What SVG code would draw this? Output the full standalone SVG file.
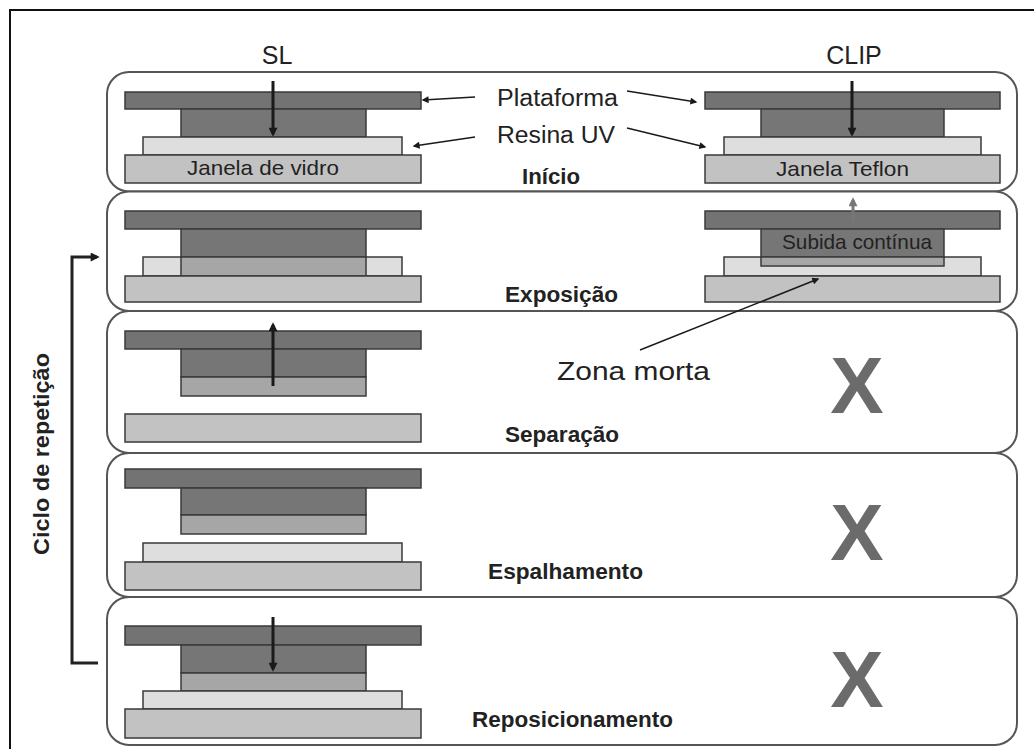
<svg xmlns="http://www.w3.org/2000/svg" width="1034" height="749" viewBox="0 0 1034 749">
<style>
.panel{fill:#fff;stroke:#555;stroke-width:2}
.plate{fill:#737373;stroke:#3a3a3a;stroke-width:1.5}
.block{fill:#767676;stroke:#3a3a3a;stroke-width:1.5}
.cured{fill:#a6a6a6;stroke:#3a3a3a;stroke-width:1.5}
.resin{fill:#dedede;stroke:#3a3a3a;stroke-width:1.5}
.win{fill:#c2c2c2;stroke:#3a3a3a;stroke-width:1.5}
.t{font-family:"Liberation Sans",Arial,sans-serif;fill:#222}
.b{font-family:"Liberation Sans",Arial,sans-serif;font-weight:bold;fill:#222;font-size:22px}
.x{font-family:"Liberation Sans",Arial,sans-serif;font-weight:bold;fill:#6b6b6b;font-size:80px;text-anchor:middle}
.thick{stroke:#1a1a1a;stroke-width:3;fill:none;marker-end:url(#ah)}
.thin{stroke:#1a1a1a;stroke-width:1.5;fill:none;marker-end:url(#ahs)}
</style>
<defs>
<marker id="ah" viewBox="0 0 10 10" refX="7" refY="5" markerUnits="userSpaceOnUse" markerWidth="11" markerHeight="9" orient="auto"><path d="M0,0 L10,5 L0,10 z" fill="#1a1a1a"/></marker>
<marker id="ahg" viewBox="0 0 10 10" refX="7" refY="5" markerUnits="userSpaceOnUse" markerWidth="10" markerHeight="9" orient="auto"><path d="M0,0 L10,5 L0,10 z" fill="#777"/></marker>
<marker id="ahs" viewBox="0 0 10 10" refX="8" refY="5" markerUnits="userSpaceOnUse" markerWidth="10" markerHeight="7" orient="auto"><path d="M0,0 L10,5 L0,10 z" fill="#1a1a1a"/></marker>
</defs>
<rect width="1034" height="749" fill="#fff"/>
<path d="M10,749 V10 H1034" fill="none" stroke="#111" stroke-width="2"/>

<g id="panel-inicio">
<rect class="panel" x="107" y="72" width="910" height="119.5" rx="22"/>
<rect class="plate" x="125" y="92" width="296" height="17"/>
<rect class="block" x="181" y="109" width="185" height="28"/>
<rect class="resin" x="143" y="137" width="259" height="18"/>
<rect class="win" x="125" y="155" width="296" height="28"/>
<text class="t" x="187" y="175" font-size="21" textLength="152" lengthAdjust="spacingAndGlyphs">Janela de vidro</text>
<rect class="plate" x="705" y="92" width="295" height="17"/>
<rect class="block" x="761" y="109" width="183" height="28"/>
<rect class="resin" x="724" y="137" width="257" height="18"/>
<rect class="win" x="705" y="155" width="295" height="28"/>
<text class="t" x="776" y="176" font-size="21" textLength="133" lengthAdjust="spacingAndGlyphs">Janela Teflon</text>
<text class="b" x="522" y="184" textLength="58" lengthAdjust="spacingAndGlyphs">Início</text>
</g>

<g id="panel-exposicao">
<rect class="panel" x="107" y="191.5" width="910" height="119.5" rx="22"/>
<rect class="plate" x="125" y="211" width="296" height="18"/>
<rect class="resin" x="143" y="257" width="259" height="19"/>
<rect class="block" x="181" y="229" width="185" height="28"/>
<rect class="cured" x="181" y="257" width="185" height="19"/>
<rect class="win" x="125" y="276" width="296" height="26"/>
<rect class="plate" x="705" y="211" width="295" height="18"/>
<rect class="resin" x="724" y="257" width="257" height="19"/>
<rect class="block" x="761" y="229" width="183" height="28"/>
<rect class="cured" x="761" y="257" width="183" height="9"/>
<rect class="win" x="705" y="276" width="295" height="26"/>
<text class="t" x="782" y="249" font-size="21" textLength="150" lengthAdjust="spacingAndGlyphs" fill="#2a2a2a">Subida contínua</text>
<text class="b" x="505" y="302" textLength="113" lengthAdjust="spacingAndGlyphs">Exposição</text>
</g>

<g id="panel-separacao">
<rect class="panel" x="107" y="311" width="910" height="142" rx="22"/>
<rect class="plate" x="125" y="331" width="296" height="18"/>
<rect class="block" x="181" y="349" width="185" height="28"/>
<rect class="cured" x="181" y="377" width="185" height="19"/>
<rect class="win" x="125" y="414" width="296" height="28"/>
<text class="b" x="505" y="442" textLength="114" lengthAdjust="spacingAndGlyphs">Separação</text>
<text class="x" x="857" y="413">X</text>
</g>

<g id="panel-espalhamento">
<rect class="panel" x="107" y="453" width="910" height="144" rx="22"/>
<rect class="plate" x="125" y="469" width="296" height="19"/>
<rect class="block" x="181" y="488" width="185" height="27"/>
<rect class="cured" x="181" y="515" width="185" height="19"/>
<rect class="resin" x="143" y="543" width="259" height="19"/>
<rect class="win" x="125" y="562" width="296" height="28"/>
<text class="b" x="488" y="579" textLength="155" lengthAdjust="spacingAndGlyphs">Espalhamento</text>
<text class="x" x="857" y="560">X</text>
</g>

<g id="panel-reposicionamento">
<rect class="panel" x="107" y="597" width="910" height="148" rx="22"/>
<rect class="plate" x="125" y="626" width="296" height="19"/>
<rect class="block" x="181" y="645" width="185" height="28"/>
<rect class="cured" x="181" y="673" width="185" height="18"/>
<rect class="resin" x="143" y="691" width="259" height="18"/>
<rect class="win" x="125" y="709" width="296" height="29"/>
<text class="b" x="472" y="727" textLength="201" lengthAdjust="spacingAndGlyphs">Reposicionamento</text>
<text class="x" x="857" y="707">X</text>
</g>

<g id="labels">
<text class="t" x="277" y="64" font-size="25" text-anchor="middle">SL</text>
<text class="t" x="854" y="64" font-size="25" text-anchor="middle">CLIP</text>
<text class="t" x="497" y="106" font-size="23" textLength="121" lengthAdjust="spacingAndGlyphs">Plataforma</text>
<text class="t" x="497" y="143" font-size="23" textLength="118" lengthAdjust="spacingAndGlyphs">Resina UV</text>
<text class="t" x="557" y="380" font-size="25" textLength="153" lengthAdjust="spacingAndGlyphs">Zona morta</text>
<text class="b" transform="translate(49,454) rotate(-90)" text-anchor="middle" font-size="20" textLength="202" lengthAdjust="spacingAndGlyphs">Ciclo de repetição</text>
</g>

<g id="connectors">
<line class="thick" x1="273" y1="81" x2="273" y2="134"/>
<line class="thick" x1="852" y1="81" x2="852" y2="134"/>
<line class="thick" x1="273" y1="386" x2="273" y2="325"/>
<line class="thick" x1="273" y1="617" x2="273" y2="669"/>
<line x1="853" y1="222" x2="853" y2="200" stroke="#777" stroke-width="3" marker-end="url(#ahg)"/>
<line class="thin" x1="475" y1="97" x2="423" y2="100"/>
<line class="thin" x1="627" y1="91" x2="696" y2="102"/>
<line class="thin" x1="475" y1="137" x2="414" y2="146"/>
<line class="thin" x1="627" y1="128" x2="705" y2="147"/>
<line class="thin" x1="640" y1="350" x2="818" y2="279"/>
<path d="M98,663 H72 V257 H97" stroke="#222" stroke-width="3" fill="none" marker-end="url(#ah)"/>
</g>
</svg>
